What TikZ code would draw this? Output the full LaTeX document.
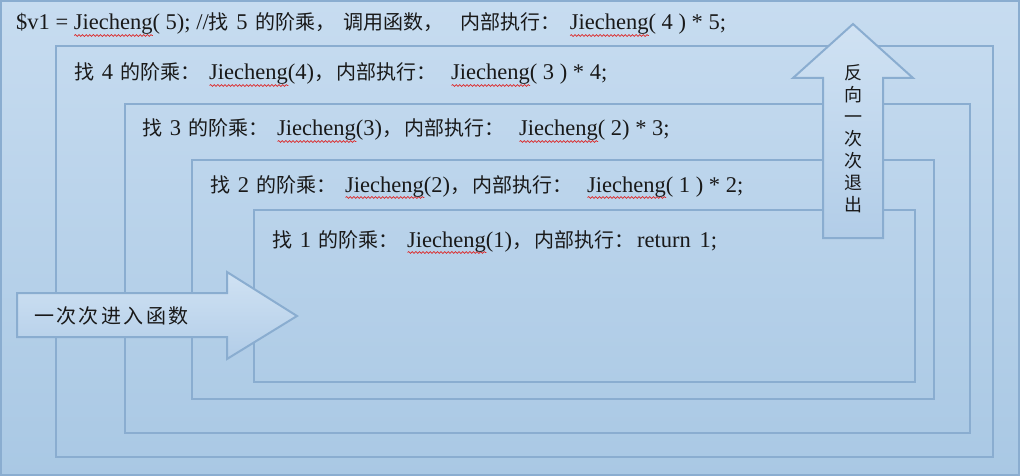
\documentclass[tikz,border=0pt]{standalone}
\usepackage{fontspec}
\usetikzlibrary{decorations.pathmorphing}
\setmainfont{Liberation Serif}
\newfontfamily\cjk{Noto Sans CJK SC}
\definecolor{bgtop}{RGB}{199,220,240}
\definecolor{bgbot}{RGB}{169,200,228}
\definecolor{frame}{RGB}{138,173,208}
\definecolor{arrtop}{RGB}{208,226,243}
\definecolor{arrbot}{RGB}{178,205,232}
\definecolor{wavered}{RGB}{220,40,40}
\newsavebox\wvbox
\newcommand\zh[1]{{\cjk\fontsize{20}{22}\selectfont #1}}
\newcommand\wv[1]{\sbox\wvbox{#1}\makebox[0pt][l]{\tikz[x=1pt,y=1pt,baseline=0pt]\draw[wavered,line width=0.7pt,decorate,decoration={snake,amplitude=0.9pt,segment length=3.6pt}] (0,-5.5) -- (\the\wd\wvbox,-5.5);}\usebox\wvbox}
\newcommand\num[1]{\hspace{2pt} #1 \hspace{2pt}}
\newcommand\cl{\hspace{8.5pt}}
\newcommand\clb{\hspace{14.5pt}}
\newcommand\cm{\hspace{2.5pt}}
\begin{document}
\begin{tikzpicture}[x=1pt,y=-1pt,
  box/.style={draw=frame,line width=2.5pt},
  blockarrow/.style={draw=frame,line width=2pt,top color=arrtop,bottom color=arrbot,line join=miter},
  codeline/.style={anchor=base west,inner sep=0pt,font=\fontsize{22.5}{26}\selectfont,text=black!90},
  arrowtext/.style={inner sep=0pt,font=\cjk\fontsize{18}{22}\selectfont,text=black!90,align=center}]
\useasboundingbox (0,0) rectangle (1020,476);
% background
\shade[top color=bgtop,bottom color=bgbot] (0,0) rectangle (1020,476);
\draw[box] (1.2,1.2) rectangle (1018.8,474.8);
% nested frames
\draw[box] (56,46) rectangle (993,457);
\draw[box] (125,104) rectangle (970,433);
\draw[box] (192,160) rectangle (934,399);
\draw[box] (254,210) rectangle (915,382);
% block arrows
\draw[blockarrow] (853,24) -- (913,78) -- (883,78) -- (883,238) -- (823,238) -- (823,78) -- (793,78) -- cycle;
\draw[blockarrow] (17,293) -- (227,293) -- (227,272) -- (297,316) -- (227,359) -- (227,337) -- (17,337) -- cycle;
\node[arrowtext] (up) at (853,139) {反\\向\\一\\次\\次\\退\\出};
\node[arrowtext,anchor=west,font=\cjk\fontsize{20}{22}\selectfont] (right) at (34,316) {\addfontfeature{LetterSpace=12}一次次进入函数};
% code lines
\node[codeline] (l1) at (16,30) {\$v1 = \wv{Jiecheng}( 5); //\zh{找}\num{5}\zh{的阶乘，}\hspace{8pt}\zh{调用函数，}\hspace{17pt}\zh{内部执行：}\hspace{9.5pt}\wv{Jiecheng}( 4 ) * 5;};
\node[codeline] (l2) at (74,80) {\zh{找}\num{4}\zh{的阶乘：}\cl\wv{Jiecheng}(4)\zh{，}\cm\zh{内部执行：}\clb\wv{Jiecheng}( 3 ) * 4;};
\node[codeline] (l3) at (142,136) {\zh{找}\num{3}\zh{的阶乘：}\cl\wv{Jiecheng}(3)\zh{，}\cm\zh{内部执行：}\clb\wv{Jiecheng}( 2) * 3;};
\node[codeline] (l4) at (210,192) {\zh{找}\num{2}\zh{的阶乘：}\cl\wv{Jiecheng}(2)\zh{，}\cm\zh{内部执行：}\clb\wv{Jiecheng}( 1 ) * 2;};
\node[codeline] (l5) at (272,247) {\zh{找}\num{1}\zh{的阶乘：}\cl\wv{Jiecheng}(1)\zh{，}\cm\zh{内部执行：}\hspace{2.5pt}return\hspace{3pt} 1;};
\end{tikzpicture}
\end{document}
